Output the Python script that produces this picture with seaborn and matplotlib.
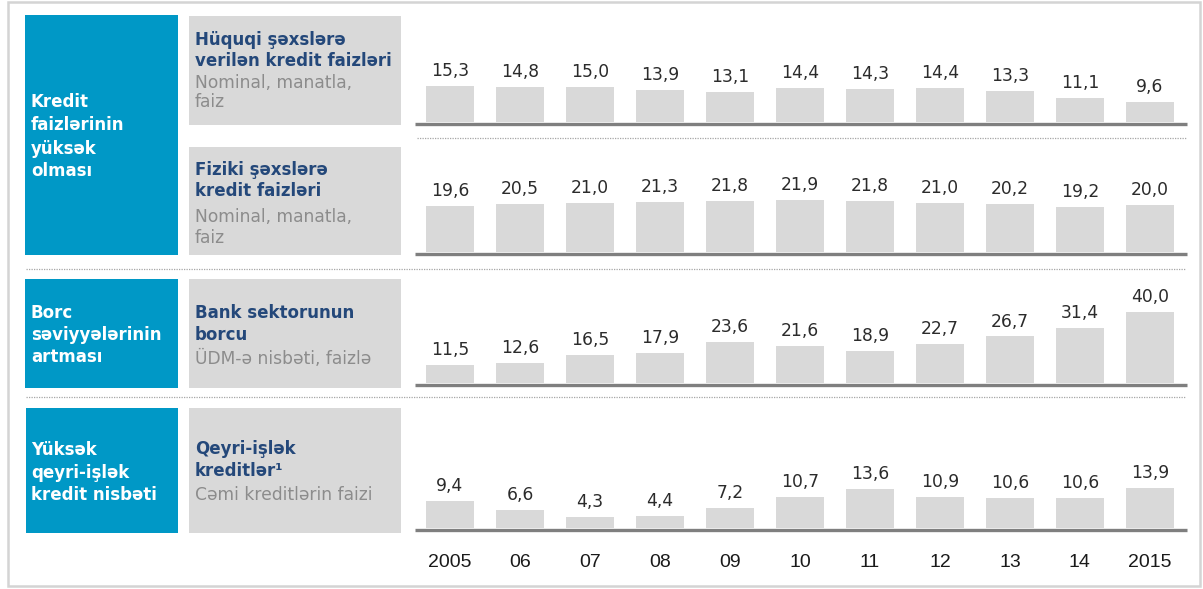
import numpy as np
import pandas as pd
import seaborn as sns
import matplotlib.pyplot as plt
from matplotlib.patches import Rectangle
from matplotlib.lines import Line2D

years = ["2005", "06", "07", "08", "09", "10", "11", "12", "13", "14", "2015"]
huquqi = [15.3, 14.8, 15.0, 13.9, 13.1, 14.4, 14.3, 14.4, 13.3, 11.1, 9.6]
fiziki = [19.6, 20.5, 21.0, 21.3, 21.8, 21.9, 21.8, 21.0, 20.2, 19.2, 20.0]
bank_borc = [11.5, 12.6, 16.5, 17.9, 23.6, 21.6, 18.9, 22.7, 26.7, 31.4, 40.0]
qeyri_islek = [9.4, 6.6, 4.3, 4.4, 7.2, 10.7, 13.6, 10.9, 10.6, 10.6, 13.9]

W, H = 1203, 589
BLUE = "#0098C6"
GREY = "#D9D9D9"
NAVY = "#24487A"
SUB = "#8C8C8C"

sns.set_theme(style="white")
plt.rcParams["font.family"] = ["Liberation Sans", "DejaVu Sans"]

fig = plt.figure(figsize=(W / 100, H / 100), dpi=100)
fig.patch.set_facecolor("white")


def fx(x):
    return x / W


def fy(y):
    return 1 - y / H


def box(x0, y0, x1, y1, color):
    fig.add_artist(Rectangle((fx(x0), fy(y1)), fx(x1) - fx(x0), fy(y0) - fy(y1),
                             transform=fig.transFigure, facecolor=color,
                             edgecolor="none", zorder=0))


def hline(x0, x1, y, **kw):
    fig.add_artist(Line2D([fx(x0), fx(x1)], [fy(y), fy(y)],
                          transform=fig.transFigure, **kw))


# outer frame
fig.add_artist(Rectangle((fx(8), fy(586)), fx(1200) - fx(8), fy(2) - fy(586),
                         transform=fig.transFigure, facecolor="none",
                         edgecolor="#D4D4D4", linewidth=1.8, zorder=0))

# blue boxes
box(25, 15, 178, 255, BLUE)
box(25, 279, 178, 388, BLUE)
box(26, 408, 178, 533, BLUE)
# grey boxes
box(189, 16, 401, 125, GREY)
box(189, 147, 401, 255, GREY)
box(189, 279, 401, 388, GREY)
box(189, 408, 401, 533, GREY)

# dotted separators
sep = dict(color="#A6A6A6", linewidth=0.9, linestyle=(0, (1, 1)))
hline(417, 1187, 138, **sep)
hline(26, 1185, 269, **sep)
hline(26, 1185, 397, **sep)

# blue box texts
blue_txt = [("Kredit", 107), ("faizlərinin", 130.5), ("yüksək", 153.5), ("olması", 176.5),
            ("Borc", 318), ("səviyyələrinin", 340.5), ("artması", 362.5),
            ("Yüksək", 455), ("qeyri-işlək", 477.5), ("kredit nisbəti", 499.5)]
for t, y in blue_txt:
    fig.text(fx(31), fy(y), t, color="white", fontsize=12, fontweight="bold",
             family="DejaVu Sans", va="baseline")

# grey box texts
titles = [("Hüquqi şəxslərə", 45), ("verilən kredit faizləri", 66.5),
          ("Fiziki şəxslərə", 175), ("kredit faizləri", 196.5),
          ("Bank sektorunun", 317.5), ("borcu", 339.5),
          ("Qeyri-işlək", 453.5), ("kreditlər\u00b9", 476)]
for t, y in titles:
    fig.text(fx(195), fy(y), t, color=NAVY, fontsize=11.95, fontweight="bold",
             family="DejaVu Sans", va="baseline")
subs = [("Nominal, manatla,", 87.5), ("faiz", 107),
        ("Nominal, manatla,", 222), ("faiz", 243),
        ("ÜDM-ə nisbəti, faizlə", 364),
        ("Cəmi kreditlərin faizi", 500.5)]
for t, y in subs:
    fig.text(fx(195), fy(y), t, color=SUB, fontsize=12.3, family="DejaVu Sans",
             va="baseline")

# bar rows: (values, bar bottom px, axis floor value, px per unit)
rows = [(huquqi, 122, 2.4, 2.81),
        (fiziki, 251.7, 0.0, 2.34),
        (bank_borc, 383, 1.5, 1.846),
        (qeyri_islek, 528, 0.56, 3.02)]
AX_H = 110
X0, X1 = 415, 1187

for i, (vals, bottom, floor, scale) in enumerate(rows):
    ax = fig.add_axes([fx(X0), fy(bottom), fx(X1) - fx(X0), AX_H / H])
    df = pd.DataFrame({"year": years, "value": vals})
    sns.barplot(data=df, x="year", y="value", color=GREY, saturation=1,
                width=0.69, linewidth=0, ax=ax)
    ax.set_xlim(-0.5, 10.53)
    ax.set_ylim(floor, floor + AX_H / scale)
    ax.set_facecolor("none")
    for s in ax.spines.values():
        s.set_visible(False)
    ax.set_xlabel("")
    ax.set_ylabel("")
    ax.set_yticks([])
    ax.bar_label(ax.containers[0], labels=[f"{v:.1f}".replace(".", ",") for v in vals],
                 padding=4.3, fontsize=12.3, color="#2B2B2B", family="DejaVu Sans")
    if i < 3:
        ax.set_xticks([])
    else:
        ax.tick_params(axis="x", length=0, pad=19, labelsize=14, labelcolor="#1A1A1A")
    hline(X0, X1, bottom + 1.8, color="#7F7F7F", linewidth=2.4, solid_capstyle="butt")

fig.savefig("out.png", dpi=100, facecolor="white")
